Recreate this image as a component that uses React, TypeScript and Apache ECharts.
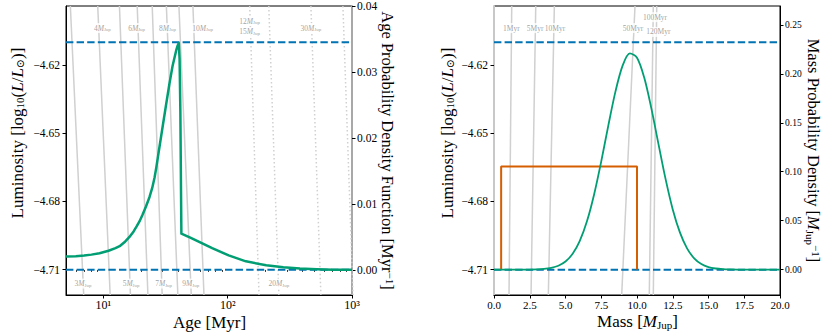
import React, { useEffect, useRef } from "react";
import * as echarts from "echarts";

// ---------- axis extents ----------
const L_MIN = -4.7211;
const L_MAX = -4.5941;
const AGE_MIN = 5;
const AGE_MAX = 1000;
const AGE_PDF_MIN = -0.0038;
const AGE_PDF_MAX = 0.04;
const MASS_PDF_MIN = -0.026;
const MASS_PDF_MAX = 0.2694;

// ---------- tick labels ----------
const lumTicks = [-4.71, -4.68, -4.65, -4.62];
const ageMajorTicks = [10, 100, 1000];
const ageMinorTicks = [6, 7, 8, 9, 20, 30, 40, 50, 60, 70, 80, 90, 200, 300, 400, 500, 600, 700, 800, 900];
const agePdfTicks = [0, 0.01, 0.02, 0.03, 0.04];
const massPdfTicks = [0, 0.05, 0.1, 0.15, 0.2, 0.25];

// ---------- observed luminosity (dashed) ----------
const dashedLum = [-4.61, -4.71];

// ---------- left panel: cooling tracks (age at top / bottom of plot) ----------
const solidTrackMass = ["3", "4", "5", "6", "7", "8", "9", "10"];
const solidTrackAgeTop = [5.42, 9.0, 13.46, 18.7, 24.7, 32.1, 40.5, 52.5];
const solidTrackAgeBottom = [6.94, 11.33, 16.5, 22.8, 29.7, 39.7, 50.9, 64.4];
const dottedTrackMass = ["12-15", "20", "30", "50"];
const dottedTrackAgeTop = [150.3, 214, 467, 845];
const dottedTrackAgeBottom = [178.6, 258, 562, 1019];

// track labels
const trackLabelText = ["4", "6", "8", "10", "12", "15", "30", "3", "5", "7", "9", "20"];
const trackLabelAge = [9.81, 18.5, 32.8, 62.8, 150, 150, 467, 6.84, 16.7, 30.5, 50.4, 258];
const trackLabelLum = [-4.6038, -4.6038, -4.6038, -4.6038, -4.6007, -4.6055, -4.6038, -4.7161, -4.7161, -4.7161, -4.7161, -4.7161];

// age probability density
const ageMyr = [5, 6, 7, 8, 9.3, 11, 12.5, 13.5, 15, 16.2, 17.5, 18.5, 19.5, 20.6, 22, 23.5, 24.7, 25.8, 26.6, 28, 30.1, 32, 34, 36, 38.5, 39.6, 40.4, 41.0, 41.6, 42.1, 42.4, 46, 50, 59.5, 75, 101.8, 140, 204, 280, 381, 520, 703, 1000];
const agePdf = [0.00202, 0.00209, 0.00218, 0.00232, 0.00253, 0.00291, 0.0033, 0.00359, 0.00432, 0.005, 0.00583, 0.00659, 0.00735, 0.00833, 0.00962, 0.01106, 0.01242, 0.01402, 0.01545, 0.01818, 0.02197, 0.02515, 0.02826, 0.03091, 0.03326, 0.03402, 0.0344, 0.032, 0.024, 0.012, 0.0055, 0.0052, 0.0049, 0.0042, 0.0033, 0.0022, 0.0013, 0.0007, 0.0004, 0.0002, 0.0001, 0.00004, 0.00001];

// ---------- right panel: isochrones (mass at top / bottom of plot) ----------
const isoAge = ["1", "5", "10", "50", "100", "120"];
const isoMassTop = [1.24, 2.92, 4.22, 9.86, 11.14, 11.38];
const isoMassBottom = [1.05, 2.59, 3.8, 8.93, 10.86, 11.14];
const isoLabelMass = [1.22, 2.87, 4.27, 9.72, 11.26, 11.5];
const isoLabelLum = [-4.6038, -4.6038, -4.6038, -4.6038, -4.599, -4.6055];

// mass probability density
const massMJup = [0, 1, 2, 3, 3.5, 4, 4.5, 5, 5.5, 6, 6.5, 7, 7.5, 8, 8.5, 9, 9.5, 10, 10.5, 11, 11.5, 12, 12.5, 13, 13.5, 14, 14.5, 15, 15.5, 16, 16.5, 17, 18, 19, 20];
const massPdf = [0, 0, 0, 0.0002, 0.0006, 0.0017, 0.0039, 0.0082, 0.0161, 0.0293, 0.0493, 0.0768, 0.1106, 0.1477, 0.1824, 0.2087, 0.2209, 0.2165, 0.1965, 0.165, 0.1284, 0.0924, 0.0615, 0.038, 0.0217, 0.0115, 0.0056, 0.0025, 0.0011, 0.0004, 0.0001, 0, 0, 0, 0];

// uniform prior
const priorMass = [0.5, 0.5, 10, 10];
const priorPdf = [0, 0.1053, 0.1053, 0];

const SERIF = "'Liberation Serif', 'DejaVu Serif', serif";
const TRACK_GRAY = "#d0d0d0";
const LABEL_GRAY = "#8a8a8a";
const GREEN = "#029e73";
const BLUE = "#0173b2";
const ORANGE = "#d55e00";

const fmtLum = (v: number) => "\u2212" + Math.abs(v).toFixed(2);

export default function App() {
  const ref = useRef<HTMLDivElement>(null);

  useEffect(() => {
    if (!ref.current) return;
    const chart = echarts.init(ref.current, null, { renderer: "svg" });

    const labelRich = {
      n: { fontSize: 7.5, fontFamily: SERIF, color: LABEL_GRAY },
      m: { fontSize: 7.5, fontFamily: SERIF, fontStyle: "italic", color: LABEL_GRAY },
      j: { fontSize: 5, fontFamily: SERIF, color: LABEL_GRAY, verticalAlign: "bottom" },
    };

    const series: any[] = [];

    // left panel tracks
    solidTrackMass.forEach((m, i) => {
      series.push({
        type: "line", name: m + " MJup", xAxisIndex: 0, yAxisIndex: 0, z: 1,
        symbol: "none", silent: true,
        lineStyle: { color: TRACK_GRAY, width: 1.5 },
        data: [[solidTrackAgeTop[i], L_MAX], [solidTrackAgeBottom[i], L_MIN]],
      });
    });
    dottedTrackMass.forEach((m, i) => {
      series.push({
        type: "line", name: m + " MJup", xAxisIndex: 0, yAxisIndex: 0, z: 1,
        symbol: "none", silent: true,
        lineStyle: { color: TRACK_GRAY, width: 1.5, type: [1.5, 2.5] },
        data: [[dottedTrackAgeTop[i], L_MAX], [dottedTrackAgeBottom[i], L_MIN]],
      });
    });
    series.push({
      type: "scatter", xAxisIndex: 0, yAxisIndex: 0, z: 3, symbolSize: 0, silent: true,
      data: trackLabelText.map((t, i) => ({ name: t, value: [trackLabelAge[i], trackLabelLum[i]] })),
      label: {
        show: true, position: "inside",
        formatter: (p: any) => `{n|${p.name}}{m|M}{j|Jup}`,
        backgroundColor: "#fff", padding: [1, 1],
        rich: labelRich,
      },
    });
    dashedLum.forEach((l) => {
      series.push({
        type: "line", xAxisIndex: 0, yAxisIndex: 0, z: 4, symbol: "none", silent: true,
        lineStyle: { color: BLUE, width: 2, type: [7.4, 3.2] },
        data: [[AGE_MIN, l], [AGE_MAX, l]],
      });
    });
    series.push({
      type: "line", name: "age pdf", xAxisIndex: 0, yAxisIndex: 1, z: 5, symbol: "none",
      lineStyle: { color: GREEN, width: 2.5, join: "round" },
      data: ageMyr.map((a, i) => [a, agePdf[i]]),
    });

    // right panel isochrones
    isoAge.forEach((a, i) => {
      series.push({
        type: "line", name: a + " Myr", xAxisIndex: 2, yAxisIndex: 2, z: 1,
        symbol: "none", silent: true,
        lineStyle: { color: TRACK_GRAY, width: 1.5 },
        data: [[isoMassTop[i], L_MAX], [isoMassBottom[i], L_MIN]],
      });
    });
    series.push({
      type: "scatter", xAxisIndex: 2, yAxisIndex: 2, z: 3, symbolSize: 0, silent: true,
      data: isoAge.map((t, i) => ({ name: t, value: [isoLabelMass[i], isoLabelLum[i]] })),
      label: {
        show: true, position: "inside",
        formatter: (p: any) => p.name + "Myr",
        backgroundColor: "#fff", padding: [1, 1],
        fontSize: 7.5, fontFamily: SERIF, color: LABEL_GRAY,
      },
    });
    dashedLum.forEach((l) => {
      series.push({
        type: "line", xAxisIndex: 2, yAxisIndex: 2, z: 4, symbol: "none", silent: true,
        lineStyle: { color: BLUE, width: 2, type: [7.4, 3.2] },
        data: [[0, l], [20, l]],
      });
    });
    series.push({
      type: "line", name: "prior", xAxisIndex: 2, yAxisIndex: 3, z: 5, symbol: "none",
      lineStyle: { color: ORANGE, width: 2 },
      data: priorMass.map((m, i) => [m, priorPdf[i]]),
    });
    series.push({
      type: "line", name: "mass pdf", xAxisIndex: 2, yAxisIndex: 3, z: 6, symbol: "none",
      smooth: 0.3,
      lineStyle: { color: GREEN, width: 1.8 },
      data: massMJup.map((m, i) => [m, massPdf[i]]),
    });

    const tickStyle = { color: "#000", width: 1 };
    const baseLabel = { color: "#000", fontFamily: SERIF, fontSize: 11.5 };

    const lumAxis = (gridIndex: number, spineColor: string) => ({
      type: "value", gridIndex, position: "left", min: L_MIN, max: L_MAX,
      axisLine: { show: true, lineStyle: { color: spineColor, width: spineColor === "#000" ? 1 : 2 } },
      axisTick: { show: true, length: 3.5, customValues: lumTicks, lineStyle: tickStyle },
      axisLabel: { ...baseLabel, customValues: lumTicks, formatter: fmtLum, margin: 6 },
      splitLine: { show: false },
    });

    const option: any = {
      animation: false,
      backgroundColor: "#fff",
      grid: [
        { left: 66, top: 6, width: 286, height: 289, show: true, borderColor: "#000", borderWidth: 1, backgroundColor: "transparent" },
        { left: 494, top: 6, width: 286, height: 289, show: true, borderColor: "#000", borderWidth: 1, backgroundColor: "transparent" },
      ],
      xAxis: [
        {
          type: "log", logBase: 10, gridIndex: 0, position: "bottom", min: AGE_MIN, max: AGE_MAX,
          axisLine: { show: true, onZero: false, lineStyle: tickStyle },
          axisTick: { show: true, length: 3.5, customValues: ageMajorTicks, lineStyle: tickStyle },
          axisLabel: {
            ...baseLabel, fontSize: 12, margin: 4, customValues: ageMajorTicks,
            formatter: (v: number) => "10" + ({ 10: "\u00b9", 100: "\u00b2", 1000: "\u00b3" } as any)[Math.round(v)],
          },
          splitLine: { show: false }, minorSplitLine: { show: false },
        },
        {
          type: "log", logBase: 10, gridIndex: 0, position: "bottom", min: AGE_MIN, max: AGE_MAX,
          axisLine: { show: false },
          axisTick: { show: true, length: 2, customValues: ageMinorTicks, lineStyle: { color: "#000", width: 0.8 } },
          axisLabel: { show: false },
          splitLine: { show: false },
        },
        {
          type: "value", gridIndex: 1, position: "bottom", min: 0, max: 20, interval: 2.5,
          axisLine: { show: true, onZero: false, lineStyle: tickStyle },
          axisTick: { show: true, length: 3.5, lineStyle: tickStyle },
          axisLabel: { ...baseLabel, fontSize: 11, margin: 4, formatter: (v: number) => v.toFixed(1) },
          splitLine: { show: false },
        },
      ],
      yAxis: [
        lumAxis(0, "#000"),
        {
          type: "value", gridIndex: 0, position: "right", min: AGE_PDF_MIN, max: AGE_PDF_MAX,
          axisLine: { show: true, lineStyle: { color: "#a8a8a8", width: 2 } },
          axisTick: { show: true, length: 3.5, customValues: agePdfTicks, lineStyle: tickStyle },
          axisLabel: { ...baseLabel, customValues: agePdfTicks, formatter: (v: number) => v.toFixed(2), margin: 5 },
          splitLine: { show: false },
        },
        lumAxis(1, "#c8c8c8"),
        {
          type: "value", gridIndex: 1, position: "right", min: MASS_PDF_MIN, max: MASS_PDF_MAX,
          axisLine: { show: true, lineStyle: tickStyle },
          axisTick: { show: true, length: 3.5, customValues: massPdfTicks, lineStyle: tickStyle },
          axisLabel: { ...baseLabel, fontSize: 9.5, customValues: massPdfTicks, formatter: (v: number) => v.toFixed(2), margin: 5 },
          splitLine: { show: false },
        },
      ],
      series,
      graphic: [
        {
          type: "text", x: 17, y: 133, rotation: Math.PI / 2,
          style: {
            text: "{a|Luminosity [log}{s|10}{a|(}{i|L}{a|/}{i|L}{s|\u2299}{a|)]}",
            align: "center", verticalAlign: "middle", fill: "#000",
            rich: {
              a: { fontSize: 17, fontFamily: SERIF, fill: "#000" },
              i: { fontSize: 17, fontFamily: SERIF, fontStyle: "italic", fill: "#000" },
              s: { fontSize: 11, fontFamily: SERIF, fill: "#000", verticalAlign: "bottom" },
            },
          },
        },
        {
          type: "text", x: 447, y: 133, rotation: Math.PI / 2,
          style: {
            text: "{a|Luminosity [log}{s|10}{a|(}{i|L}{a|/}{i|L}{s|\u2299}{a|)]}",
            align: "center", verticalAlign: "middle", fill: "#000",
            rich: {
              a: { fontSize: 17, fontFamily: SERIF, fill: "#000" },
              i: { fontSize: 17, fontFamily: SERIF, fontStyle: "italic", fill: "#000" },
              s: { fontSize: 11, fontFamily: SERIF, fill: "#000", verticalAlign: "bottom" },
            },
          },
        },
        {
          type: "text", x: 387, y: 150.5, rotation: -Math.PI / 2,
          style: {
            text: "{a|Age Probability Density Function [Myr}{p|\u22121}{a|]}",
            align: "center", verticalAlign: "middle", fill: "#000",
            rich: {
              a: { fontSize: 16.5, fontFamily: SERIF, fill: "#000" },
              p: { fontSize: 11, fontFamily: SERIF, fill: "#000", verticalAlign: "top" },
            },
          },
        },
        {
          type: "text", x: 813, y: 150.5, rotation: -Math.PI / 2,
          style: {
            text: "{a|Mass Probability Density [}{i|M}{s|Jup}{p|\u22121}{a|]}",
            align: "center", verticalAlign: "middle", fill: "#000",
            rich: {
              a: { fontSize: 16.5, fontFamily: SERIF, fill: "#000" },
              i: { fontSize: 16.5, fontFamily: SERIF, fontStyle: "italic", fill: "#000" },
              s: { fontSize: 11, fontFamily: SERIF, fill: "#000", verticalAlign: "bottom" },
              p: { fontSize: 11, fontFamily: SERIF, fill: "#000", verticalAlign: "top" },
            },
          },
        },
        {
          type: "text", x: 209.5, y: 322.5,
          style: {
            text: "Age [Myr]", align: "center", verticalAlign: "middle",
            fontSize: 17, fontFamily: SERIF, fill: "#000",
          },
        },
        {
          type: "text", x: 637.5, y: 321.5,
          style: {
            text: "{a|Mass [}{i|M}{s|Jup}{a|]}",
            align: "center", verticalAlign: "middle", fill: "#000",
            rich: {
              a: { fontSize: 17, fontFamily: SERIF, fill: "#000" },
              i: { fontSize: 17, fontFamily: SERIF, fontStyle: "italic", fill: "#000" },
              s: { fontSize: 11, fontFamily: SERIF, fill: "#000", verticalAlign: "bottom" },
            },
          },
        },
      ],
    };

    chart.setOption(option);
    return () => chart.dispose();
  }, []);

  return (
    <div
      ref={ref}
      style={{ position: "absolute", left: 0, top: 0, width: 830, height: 332 }}
    />
  );
}
